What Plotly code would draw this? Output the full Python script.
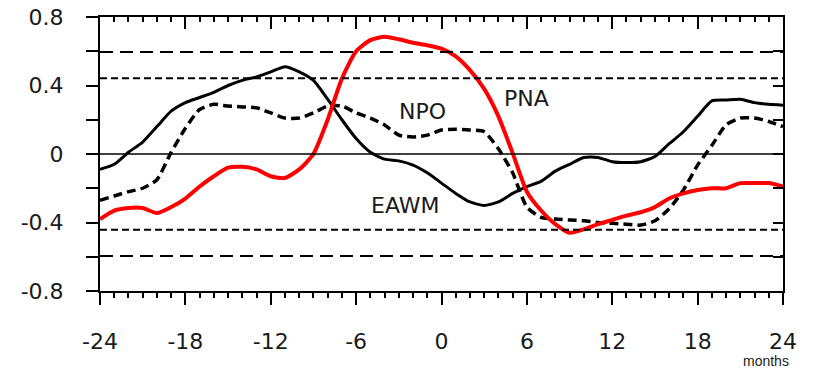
import plotly.graph_objects as go

months = list(range(-24, 25))

eawm = [-0.09, -0.06, 0.01, 0.07, 0.16, 0.25, 0.30, 0.33, 0.36, 0.40, 0.43, 0.45, 0.48,
        0.51, 0.48, 0.43, 0.32, 0.20, 0.09, 0.01, -0.03, -0.04, -0.065, -0.11, -0.17,
        -0.23, -0.28, -0.30, -0.28, -0.23, -0.19, -0.16, -0.10, -0.06, -0.02, -0.02,
        -0.045, -0.05, -0.045, -0.015, 0.06, 0.13, 0.22, 0.31, 0.315, 0.32, 0.30, 0.29, 0.285]

npo = [-0.27, -0.245, -0.22, -0.20, -0.15, 0.01, 0.15, 0.26, 0.29, 0.28, 0.275, 0.27, 0.24,
       0.21, 0.21, 0.24, 0.28, 0.28, 0.24, 0.21, 0.17, 0.11, 0.10, 0.11, 0.14,
       0.145, 0.14, 0.13, 0.03, -0.11, -0.31, -0.37, -0.38, -0.385, -0.39, -0.40,
       -0.405, -0.41, -0.415, -0.39, -0.32, -0.21, -0.065, 0.05, 0.17, 0.21, 0.21, 0.19, 0.16]

pna = [-0.38, -0.33, -0.315, -0.315, -0.345, -0.31, -0.26, -0.19, -0.13, -0.08, -0.075, -0.09, -0.13,
       -0.14, -0.09, 0.0, 0.20, 0.44, 0.60, 0.665, 0.685, 0.67, 0.65, 0.635, 0.615,
       0.57, 0.49, 0.38, 0.22, 0.005, -0.22, -0.33, -0.41, -0.46, -0.44, -0.41,
       -0.385, -0.36, -0.34, -0.31, -0.26, -0.23, -0.21, -0.20, -0.20, -0.17, -0.17, -0.17, -0.19]

sig_long = [0.595, -0.595]
sig_short = [0.442, -0.442]

x_tickvals = [-24, -18, -12, -6, 0, 6, 12, 18, 24]
x_ticktext = ["-24", "-18", "-12", "-6", "0", "6", "12", "18", "24"]
y_tickvals = [0.8, 0.6, 0.4, 0.2, 0.0, -0.2, -0.4, -0.6, -0.8]
y_ticktext = ["0.8", "", "0.4", "", "0", "", "-0.4", "", "-0.8"]

series_labels = [("NPO", -1.37, 0.25), ("PNA", 5.94, 0.327), ("EAWM", -2.57, -0.30)]

FONT = "DejaVu Sans"
INK = "#1a1a1a"

fig = go.Figure()

fig.add_trace(go.Scatter(x=months, y=eawm, mode="lines", name="EAWM",
                         line=dict(color="black", width=3, shape="spline", smoothing=0.6)))
fig.add_trace(go.Scatter(x=months, y=npo, mode="lines", name="NPO",
                         line=dict(color="black", width=3.5, dash="9px,5px", shape="spline", smoothing=0.6)))
fig.add_trace(go.Scatter(x=months, y=pna, mode="lines", name="PNA",
                         line=dict(color="#ff0000", width=4, shape="spline", smoothing=0.6)))
# invisible copies on the extra tick axes so they get drawn
for xa, ya in [("x2", "y"), ("x3", "y"), ("x4", "y"), ("x5", "y"), ("x", "y2")]:
    fig.add_trace(go.Scatter(x=months, y=eawm, xaxis=xa, yaxis=ya, mode="lines",
                             line=dict(width=0, color="rgba(0,0,0,0)"),
                             showlegend=False, hoverinfo="skip"))

for v in sig_long:
    fig.add_hline(y=v, line=dict(color="black", width=2, dash="13px,7px"))
for v in sig_short:
    fig.add_hline(y=v, line=dict(color="black", width=2, dash="7px,4px"))
fig.add_hline(y=0, line=dict(color="black", width=1.5))

for txt, xx, yy in series_labels:
    fig.add_annotation(x=xx, y=yy, text=txt, showarrow=False,
                       font=dict(family=FONT, size=22, color=INK))

fig.add_annotation(xref="paper", yref="paper", x=0.975, y=-0.257, text="months",
                   xanchor="center", yanchor="middle", borderpad=0,
                   showarrow=False, font=dict(family="Liberation Sans", size=14, color=INK))

base = dict(type="linear", range=[-24, 24], showgrid=False, zeroline=False, showline=True,
            linecolor="black", linewidth=2, tickwidth=2)

fig.update_layout(
    width=813, height=371,
    margin=dict(l=100, r=30, t=17, b=80, autoexpand=False),
    paper_bgcolor="white", plot_bgcolor="white",
    showlegend=False,
    # labelled bottom axis: transparent long ticks push the labels down
    xaxis=dict(tickmode="array", tickvals=x_tickvals, ticktext=x_ticktext,
               ticks="outside", ticklen=30, tickcolor="rgba(0,0,0,0)",
               tickfont=dict(family=FONT, size=22, color=INK), **base),
    # bottom major ticks
    xaxis2=dict(overlaying="x", side="bottom", anchor="y", tickmode="array",
                tickvals=x_tickvals, showticklabels=False, ticks="outside",
                ticklen=12, tickcolor="black", **base),
    # bottom minor ticks
    xaxis3=dict(overlaying="x", side="bottom", anchor="y", tickmode="linear",
                tick0=-24, dtick=1, showticklabels=False, ticks="outside",
                ticklen=5, tickcolor="black", **base),
    # top major ticks
    xaxis4=dict(overlaying="x", side="top", anchor="y", tickmode="array",
                tickvals=x_tickvals, showticklabels=False, ticks="inside",
                ticklen=12, tickcolor="black", **base),
    # top minor ticks
    xaxis5=dict(overlaying="x", side="top", anchor="y", tickmode="linear",
                tick0=-24, dtick=1, showticklabels=False, ticks="inside",
                ticklen=5, tickcolor="black", **base),
    yaxis=dict(type="linear", range=[-0.8, 0.8], tickmode="array", tickvals=y_tickvals,
               ticktext=y_ticktext, ticks="outside", ticklen=12, tickcolor="black",
               tickwidth=2, ticklabelstandoff=18, showgrid=False, zeroline=False,
               showline=True, linecolor="black", linewidth=2,
               tickfont=dict(family=FONT, size=22, color=INK)),
    yaxis2=dict(type="linear", range=[-0.8, 0.8], overlaying="y", side="right", anchor="x",
                tickmode="array", tickvals=y_tickvals, showticklabels=False,
                ticks="inside", ticklen=10, tickcolor="black", tickwidth=2,
                showgrid=False, zeroline=False, showline=True, linecolor="black", linewidth=2),
)

fig.write_html("out.html")
